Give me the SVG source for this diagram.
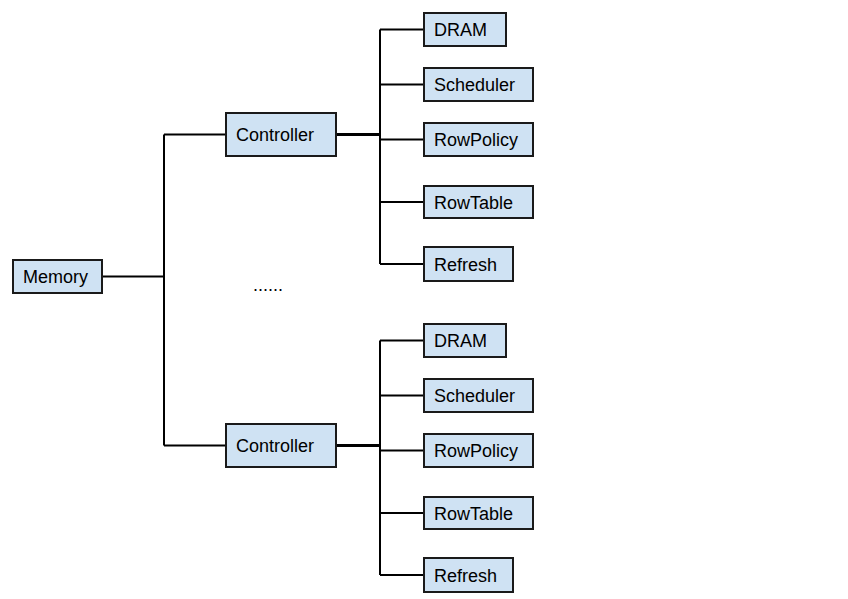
<svg xmlns="http://www.w3.org/2000/svg" width="848" height="599" viewBox="0 0 848 599">
<style>
.box{fill:#cfe2f3;stroke:#1a1a1a;stroke-width:2}
.t{font-family:"Liberation Sans",Arial,sans-serif;font-size:18px;fill:#000}
.c{fill:none;stroke:#000;stroke-width:2}
.ct{fill:none;stroke:#000;stroke-width:3}
</style>
<rect width="848" height="599" fill="#fff"/>
<g id="connectors">
<path class="c" d="M102 276.5H164M164 134.5V445.5M164 134.5H226M164 445.5H226"/>
<path class="ct" d="M336 134.5H380M336 445.5H380"/>
<path class="c" d="M380 29.5V264M380 29.5H424M380 84.5H424M380 139.5H424M380 202H424M380 264H424"/>
<path class="c" d="M380 340.5V575M380 340.5H424M380 395.5H424M380 450.5H424M380 513H424M380 575H424"/>
</g>
<g id="memory"><rect class="box" x="13" y="260" width="89" height="33"/><text class="t" x="23" y="283">Memory</text></g>
<g id="controller1"><rect class="box" x="226" y="113" width="110" height="43"/><text class="t" x="236" y="141">Controller</text></g>
<g id="controller2"><rect class="box" x="226" y="424" width="110" height="43"/><text class="t" x="236" y="452">Controller</text></g>
<g id="dram1"><rect class="box" x="424" y="13" width="82" height="33"/><text class="t" x="434" y="36">DRAM</text></g>
<g id="scheduler1"><rect class="box" x="424" y="68" width="109" height="33"/><text class="t" x="434" y="91">Scheduler</text></g>
<g id="rowpolicy1"><rect class="box" x="424" y="123" width="109" height="33"/><text class="t" x="434" y="146">RowPolicy</text></g>
<g id="rowtable1"><rect class="box" x="424" y="186" width="109" height="32"/><text class="t" x="434" y="208.5">RowTable</text></g>
<g id="refresh1"><rect class="box" x="424" y="247" width="89" height="34"/><text class="t" x="434" y="270.5">Refresh</text></g>
<g id="dram2"><rect class="box" x="424" y="324" width="82" height="33"/><text class="t" x="434" y="347">DRAM</text></g>
<g id="scheduler2"><rect class="box" x="424" y="379" width="109" height="33"/><text class="t" x="434" y="402">Scheduler</text></g>
<g id="rowpolicy2"><rect class="box" x="424" y="434" width="109" height="33"/><text class="t" x="434" y="457">RowPolicy</text></g>
<g id="rowtable2"><rect class="box" x="424" y="497" width="109" height="32"/><text class="t" x="434" y="519.5">RowTable</text></g>
<g id="refresh2"><rect class="box" x="424" y="558" width="89" height="34"/><text class="t" x="434" y="581.5">Refresh</text></g>
<text class="t" x="253" y="291">......</text>
</svg>
